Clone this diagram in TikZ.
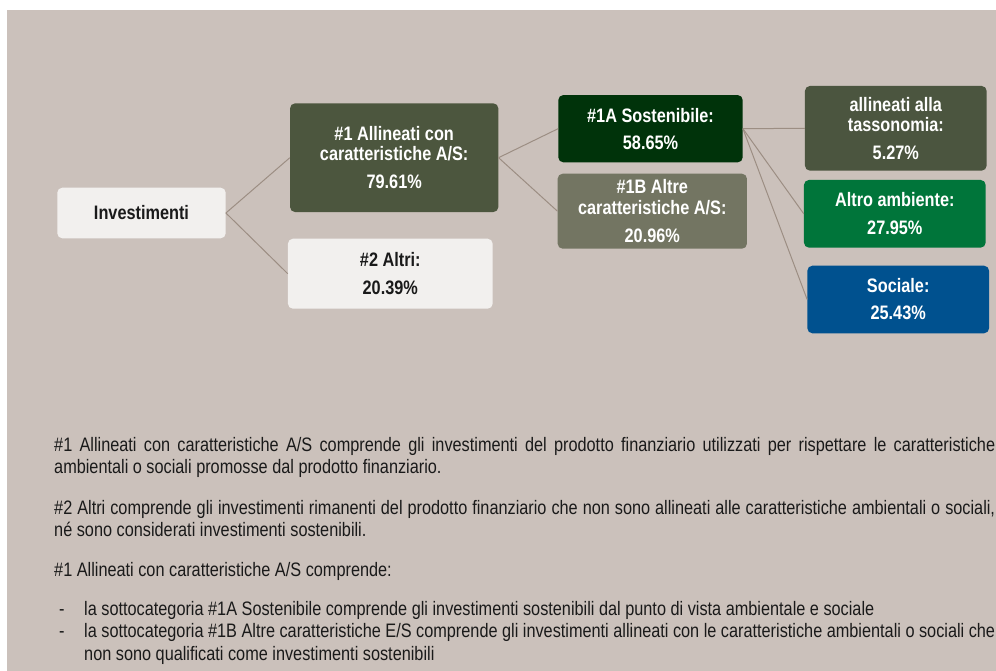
\documentclass[tikz,border=0pt]{standalone}
\usepackage{fontspec}
\newfontfamily\narrowsans[FakeStretch=0.835]{Liberation Sans}
\definecolor{bgc}{HTML}{CBC1BB}
\definecolor{lightbox}{HTML}{F2F0EE}
\definecolor{olive}{HTML}{4C563E}
\definecolor{darkgreen}{HTML}{00330A}
\definecolor{greyolive}{HTML}{737562}
\definecolor{taxc}{HTML}{4B553F}
\definecolor{ambc}{HTML}{00753A}
\definecolor{socc}{HTML}{00518F}
\definecolor{connc}{HTML}{9C8E83}
\definecolor{bodyc}{HTML}{1A1A1A}
\tikzset{
  panel/.style={rounded corners=5pt, inner sep=0pt, align=center, text=white,
    font=\narrowsans\bfseries\fontsize{19.5}{20.5}\selectfont},
  lightpanel/.style={panel, fill=lightbox, text=bodyc},
  conn/.style={draw=connc, line width=1pt},
  bodytext/.style={anchor=base west, inner sep=0pt, text=bodyc,
    font=\narrowsans\fontsize{19.5}{22.5}\selectfont}
}
\begin{document}
\begin{tikzpicture}[x=1pt,y=-1pt]
\useasboundingbox (0,0) rectangle (996,671);
\fill[white] (0,0) rectangle (996,671);
\fill[bgc] (7,10) rectangle (996,671);

% boxes
\node[lightpanel, minimum width=168.4pt, minimum height=50.6pt] (inv) at (141.5,213) {Investimenti};
\node[panel, fill=olive, minimum width=208.3pt, minimum height=108.7pt] (a1) at (394.2,157.7)
  {\#1 Allineati con\\caratteristiche A/S:\\[7.5pt]79.61\%};
\node[lightpanel, minimum width=204.7pt, minimum height=70pt] (a2) at (390.3,273.7)
  {\#2 Altri:\\[7pt]20.39\%};
\node[panel, fill=darkgreen, minimum width=184.4pt, minimum height=67.3pt] (s1a) at (650.5,128.7)
  {\#1A Sostenibile:\\[6.5pt]58.65\%};
\node[panel, fill=greyolive, minimum width=189.3pt, minimum height=75pt] (s1b) at (652.3,211.2)
  {\#1B Altre\\caratteristiche A/S:\\[7.5pt]20.96\%};
\node[panel, fill=taxc, minimum width=181.7pt, minimum height=84.7pt] (tax) at (895.8,128.3)
  {allineati alla\\tassonomia:\\[7.5pt]5.27\%};
\node[panel, fill=ambc, minimum width=181.7pt, minimum height=67.7pt] (amb) at (894.8,213.8)
  {Altro ambiente:\\[7.5pt]27.95\%};
\node[panel, fill=socc, minimum width=181.7pt, minimum height=67.6pt] (soc) at (898.2,299.5)
  {Sociale:\\[6.5pt]25.43\%};

% connectors
\draw[conn] (inv.east) -- (a1.west);
\draw[conn] (inv.east) -- (a2.west);
\draw[conn] (a1.east) -- (s1a.west);
\draw[conn] (a1.east) -- (s1b.west);
\draw[conn] (s1a.east) -- (tax.west);
\draw[conn] (s1a.east) -- (amb.west);
\draw[conn] (s1a.east) -- (soc.west);

% body text
\node[bodytext] (l1) at (54,451) {\makebox[941pt][s]{\#1 Allineati con caratteristiche A/S comprende gli investimenti del prodotto finanziario utilizzati per rispettare le caratteristiche}};
\node[bodytext] (l2) at (54,473.5) {ambientali o sociali promosse dal prodotto finanziario.};
\node[bodytext] (l3) at (54,514) {\makebox[941pt][s]{\#2 Altri comprende gli investimenti rimanenti del prodotto finanziario che non sono allineati alle caratteristiche ambientali o sociali,}};
\node[bodytext] (l4) at (54,536.5) {né sono considerati investimenti sostenibili.};
\node[bodytext] (l5) at (54,576) {\#1 Allineati con caratteristiche A/S comprende:};
\node[bodytext] (d1) at (59,615) {-};
\node[bodytext] (l6) at (84,615) {la sottocategoria \#1A Sostenibile comprende gli investimenti sostenibili dal punto di vista ambientale e sociale};
\node[bodytext] (d2) at (59,637.5) {-};
\node[bodytext] (l7) at (84,637.5) {\makebox[911pt][s]{la sottocategoria \#1B Altre caratteristiche E/S comprende gli investimenti allineati con le caratteristiche ambientali o sociali che}};
\node[bodytext] (l8) at (84,660) {non sono qualificati come investimenti sostenibili};
\end{tikzpicture}
\end{document}
